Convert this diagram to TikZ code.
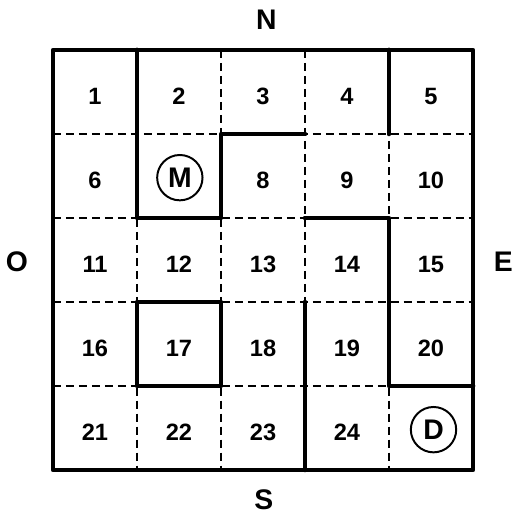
\documentclass[tikz,border=0pt]{standalone}
\usepackage{fontspec}
\setsansfont{Liberation Sans}
\usetikzlibrary{positioning}

\begin{document}
\begin{tikzpicture}[x=1.5cm,y=-1.5cm,
  wall/.style={line width=2.4pt,line cap=round,line join=round},
  gridline/.style={line width=0.6pt,dash pattern=on 4pt off 2.6pt},
  cellnum/.style={font=\sffamily\bfseries\large},
  compass/.style={font=\sffamily\bfseries\Large},
  marked/.style={cellnum,draw,circle,line width=1pt,minimum size=0.81cm,inner sep=0pt,font=\sffamily\bfseries\Large}]
\useasboundingbox (-0.631,-0.595) rectangle (5.476,5.536);
% dashed grid
\foreach \i in {1,...,4} {
  \draw[gridline] (\i,0) -- (\i,5);
  \draw[gridline] (0,\i) -- (5,\i);
}
% cell numbers
\foreach \r in {0,...,4} {
  \foreach \c in {0,...,4} {
    \pgfmathtruncatemacro\n{5*\r+\c+1}
    \ifnum\n=7\else\ifnum\n=25\else
      \node[cellnum] (c\n) at (\c+0.5,\r+0.55) {\n};
    \fi\fi
  }
}
\node[marked] (m) at (1.51,1.52) {M};
\node[marked] (d) at (4.53,4.52) {D};
% walls
\draw[wall] (0,0) rectangle (5,5);
\draw[wall] (1,0) -- (1,2) -- (2,2) -- (2,1) -- (3,1);
\draw[wall] (4,0) -- (4,1);
\draw[wall] (3,2) -- (4,2) -- (4,4) -- (5,4);
\draw[wall] (1,3) rectangle (2,4);
\draw[wall] (3,3) -- (3,5);
% compass
\node[compass] (north) at (2.54,-0.36) {N};
\node[compass] (south) at (2.51,5.36) {S};
\node[compass] (west) at (-0.43,2.52) {O};
\node[compass] (east) at (5.36,2.52) {E};
\end{tikzpicture}
\end{document}
